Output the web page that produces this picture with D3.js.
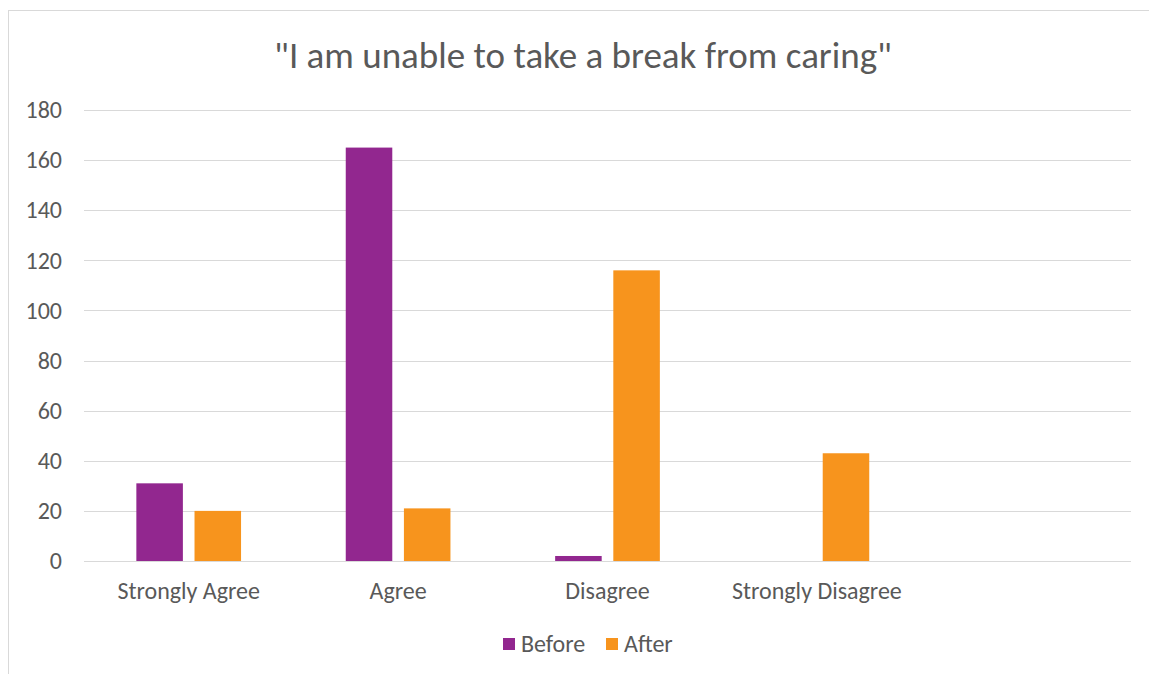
<!DOCTYPE html>
<html>
<head>
<meta charset="utf-8">
<script src="https://cdn.jsdelivr.net/npm/d3@7"></script>
<style>
  html, body { margin: 0; padding: 0; background: #fff; }
  svg { display: block; font-family: Carlito, Calibri, Lato, "Open Sans", sans-serif; }
</style>
</head>
<body>
<svg id="chart" width="1149" height="674"></svg>
<script>
// Survey responses, before and after
const categories = ["Strongly Agree", "Agree", "Disagree", "Strongly Disagree", ""];
const series = ["Before", "After"];
const beforeValues = [31, 165, 2, 0, null];
const afterValues = [20, 21, 116, 43, null];
const yTicks = [0, 20, 40, 60, 80, 100, 120, 140, 160, 180];
const title = "\"I am unable to take a break from caring\"";
const colors = { Before: "#92278F", After: "#F7941D" };

const svg = d3.select("#chart");
const W = 1149, H = 674;
const plot = { left: 84, right: 1131, top: 110, bottom: 561 };
const textColor = "#595959";
const fontStack = "Carlito, Calibri, Lato, 'Open Sans', sans-serif";
const labelSize = 24;

// chart frame
svg.append("rect")
  .attr("x", 8.5).attr("y", 10.5)
  .attr("width", W + 10).attr("height", H + 10)
  .attr("fill", "#fff").attr("stroke", "#d9d9d9").attr("stroke-width", 1);

svg.append("text")
  .attr("x", 583).attr("y", 55)
  .attr("dy", "0.35em")
  .attr("text-anchor", "middle")
  .attr("fill", textColor)
  .attr("font-size", 37)
  .text(title);

const x0 = d3.scaleBand().domain(categories).range([plot.left, plot.right]).padding(0);
const x1 = d3.scaleBand().domain(series)
  .range([x0.bandwidth() * 0.25, x0.bandwidth() * 0.75])
  .paddingInner(0.2).paddingOuter(0);
const y = d3.scaleLinear().domain([0, 180]).range([plot.bottom, plot.top]);

// horizontal gridlines
svg.append("g")
  .selectAll("line")
  .data(yTicks)
  .join("line")
  .attr("x1", plot.left).attr("x2", plot.right)
  .attr("y1", d => Math.round(y(d)) + 0.5).attr("y2", d => Math.round(y(d)) + 0.5)
  .attr("stroke", "#d9d9d9").attr("stroke-width", 1);

// y axis labels
const yAxis = d3.axisLeft(y).tickValues(yTicks).tickSize(0).tickPadding(0);
const gy = svg.append("g").attr("transform", `translate(${plot.left - 22},0)`).call(yAxis);
gy.select(".domain").remove();
gy.selectAll("text").attr("fill", textColor).attr("font-size", labelSize)
  .attr("font-family", fontStack);

// category labels
const xAxis = d3.axisBottom(x0).tickSize(0).tickPadding(0);
const gx = svg.append("g").attr("transform", `translate(0,${plot.bottom + 30})`).call(xAxis);
gx.select(".domain").remove();
gx.selectAll("text").attr("fill", textColor).attr("font-size", labelSize)
  .attr("font-family", fontStack).attr("y", 0).attr("dy", "0.35em");

// bars
const rows = categories.map((c, i) => ({ cat: c, Before: beforeValues[i], After: afterValues[i] }));
svg.append("g")
  .selectAll("g")
  .data(rows)
  .join("g")
  .attr("transform", d => `translate(${x0(d.cat)},0)`)
  .selectAll("rect")
  .data(d => series.map(s => ({ s, v: d[s] })).filter(e => e.v != null && e.v > 0))
  .join("rect")
  .attr("x", d => x1(d.s))
  .attr("width", x1.bandwidth())
  .attr("y", d => y(d.v))
  .attr("height", d => y(0) - y(d.v))
  .attr("fill", d => colors[d.s]);

// legend
const legend = svg.append("g").attr("transform", "translate(503,644)");
const items = [{ s: "Before", x: 0 }, { s: "After", x: 103 }];
items.forEach(it => {
  const g = legend.append("g").attr("transform", `translate(${it.x},0)`);
  g.append("rect").attr("x", 0).attr("y", -6).attr("width", 12).attr("height", 12).attr("fill", colors[it.s]);
  g.append("text").attr("x", 18).attr("y", 0).attr("dy", "0.35em")
    .attr("fill", textColor).attr("font-size", labelSize).text(it.s);
});
</script>
</body>
</html>
